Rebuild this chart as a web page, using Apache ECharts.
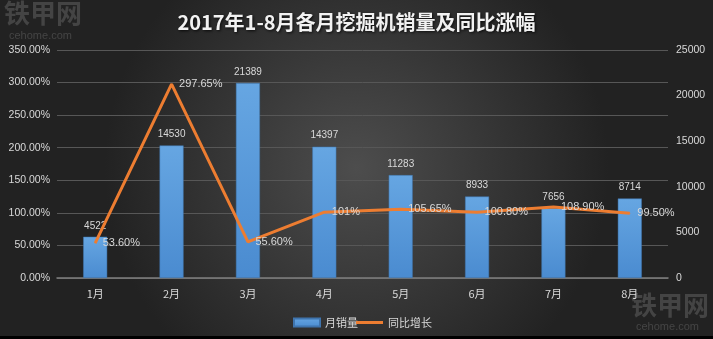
<!DOCTYPE html>
<html><head><meta charset="utf-8">
<script src="https://cdn.jsdelivr.net/npm/echarts@6/dist/echarts.min.js"></script>
<style>html,body{margin:0;padding:0;background:#000;}#c{width:713px;height:336px;}</style>
</head><body><div id="c"></div>
<script>
const categories = ['1月','2月','3月','4月','5月','6月','7月','8月'];
const monthlySales = [4522, 14530, 21389, 14397, 11283, 8933, 7656, 8714];
const yoyGrowth = [53.60, 297.65, 55.60, 101, 105.65, 100.80, 108.90, 99.50];
const yoyLabels = ['53.60%','297.65%','55.60%','101%','105.65%','100.80%','108.90%','99.50%'];
const leftTicks = [0, 350, 50];
const rightTicks = [0, 25000, 5000];

const chart = echarts.init(document.getElementById('c'));
const font = '"Liberation Sans","Noto Sans CJK SC",sans-serif';
const cjk = '"Noto Sans CJK SC",sans-serif';
const txt = '#d9d9d9';
chart.setOption({
  backgroundColor: {
    type: 'radial', x: 0.5, y: 0.5, r: 0.75,
    colorStops: [{offset: 0, color: '#4d4d4d'}, {offset: 1, color: '#222222'}]
  },
  title: {
    text: '2017年1-8月各月挖掘机销量及同比涨幅',
    left: 'center', top: 7,
    textStyle: {color: '#f2f2f2', fontSize: 20, fontWeight: 'bold', fontFamily: cjk,
      textShadowColor: 'rgba(0,0,0,0.8)', textShadowBlur: 3, textShadowOffsetX: 1, textShadowOffsetY: 1}
  },
  legend: [{
    left: 288, top: 312, itemGap: 4, itemWidth: 26, itemHeight: 8,
    textStyle: {color: txt, fontSize: 11, fontFamily: cjk},
    data: [{name: '月销量', icon: 'rect'}]
  }, {
    left: 351, top: 312, itemGap: 4, itemWidth: 27, itemHeight: 3,
    textStyle: {color: txt, fontSize: 11, fontFamily: cjk},
    data: [{name: '同比增长', icon: 'rect', itemStyle: {color: '#ed7d31'}}]
  }],
  grid: {left: 57, right: 45, top: 50, bottom: 58},
  xAxis: {
    type: 'category', data: categories,
    axisLine: {lineStyle: {color: '#7f7f7f', width: 1.5}},
    axisTick: {show: false},
    axisLabel: {color: txt, fontSize: 11, margin: 10, fontFamily: cjk}
  },
  yAxis: [{
    type: 'value', min: leftTicks[0], max: leftTicks[1], interval: leftTicks[2],
    axisLabel: {color: txt, fontSize: 10.5, fontFamily: font, margin: 7, formatter: v => v.toFixed(2) + '%'},
    splitLine: {lineStyle: {color: '#575757', width: 1}},
    axisLine: {show: false}, axisTick: {show: false}
  }, {
    type: 'value', min: rightTicks[0], max: rightTicks[1], interval: rightTicks[2],
    axisLabel: {color: txt, fontSize: 10.5, fontFamily: font, margin: 8, formatter: v => String(v)},
    splitLine: {show: false}, axisLine: {show: false}, axisTick: {show: false}
  }],
  series: [{
    name: '月销量', type: 'bar', yAxisIndex: 1, data: monthlySales, barWidth: 24,
    itemStyle: {
      color: {type: 'linear', x: 0, y: 0, x2: 0, y2: 1,
        colorStops: [{offset: 0, color: '#66a6e2'}, {offset: 1, color: '#4a8bd0'}]},
      borderColor: '#3f74ad', borderWidth: 0.5
    },
    label: {show: true, position: 'top', color: txt, fontSize: 10, fontFamily: font, distance: 6}
  }, {
    name: '同比增长', type: 'line', yAxisIndex: 0, data: yoyGrowth,
    symbol: 'circle', symbolSize: 1, showSymbol: true, z: 5,
    lineStyle: {color: '#ed7d31', width: 3},
    itemStyle: {color: '#ed7d31'},
    label: {show: true, position: 'right', color: txt, fontSize: 11, fontFamily: font, distance: 7,
      formatter: p => yoyLabels[p.dataIndex]}
  }],
  graphic: [
    {type: 'text', left: 4, top: 0, silent: true,
      style: {text: '铁甲网', fill: 'rgba(110,110,110,0.45)', font: 'bold 26px "Noto Sans CJK SC"'}},
    {type: 'text', left: 9, top: 30, silent: true,
      style: {text: 'cehome.com', fill: 'rgba(110,110,110,0.45)', font: '11px "Liberation Sans"'}},
    {type: 'text', left: 631, top: 292, silent: true,
      style: {text: '铁甲网', fill: 'rgba(110,110,110,0.45)', font: 'bold 26px "Noto Sans CJK SC"'}},
    {type: 'text', left: 636, top: 321, silent: true,
      style: {text: 'cehome.com', fill: 'rgba(110,110,110,0.45)', font: '11px "Liberation Sans"'}}
  ]
});
</script></body></html>
